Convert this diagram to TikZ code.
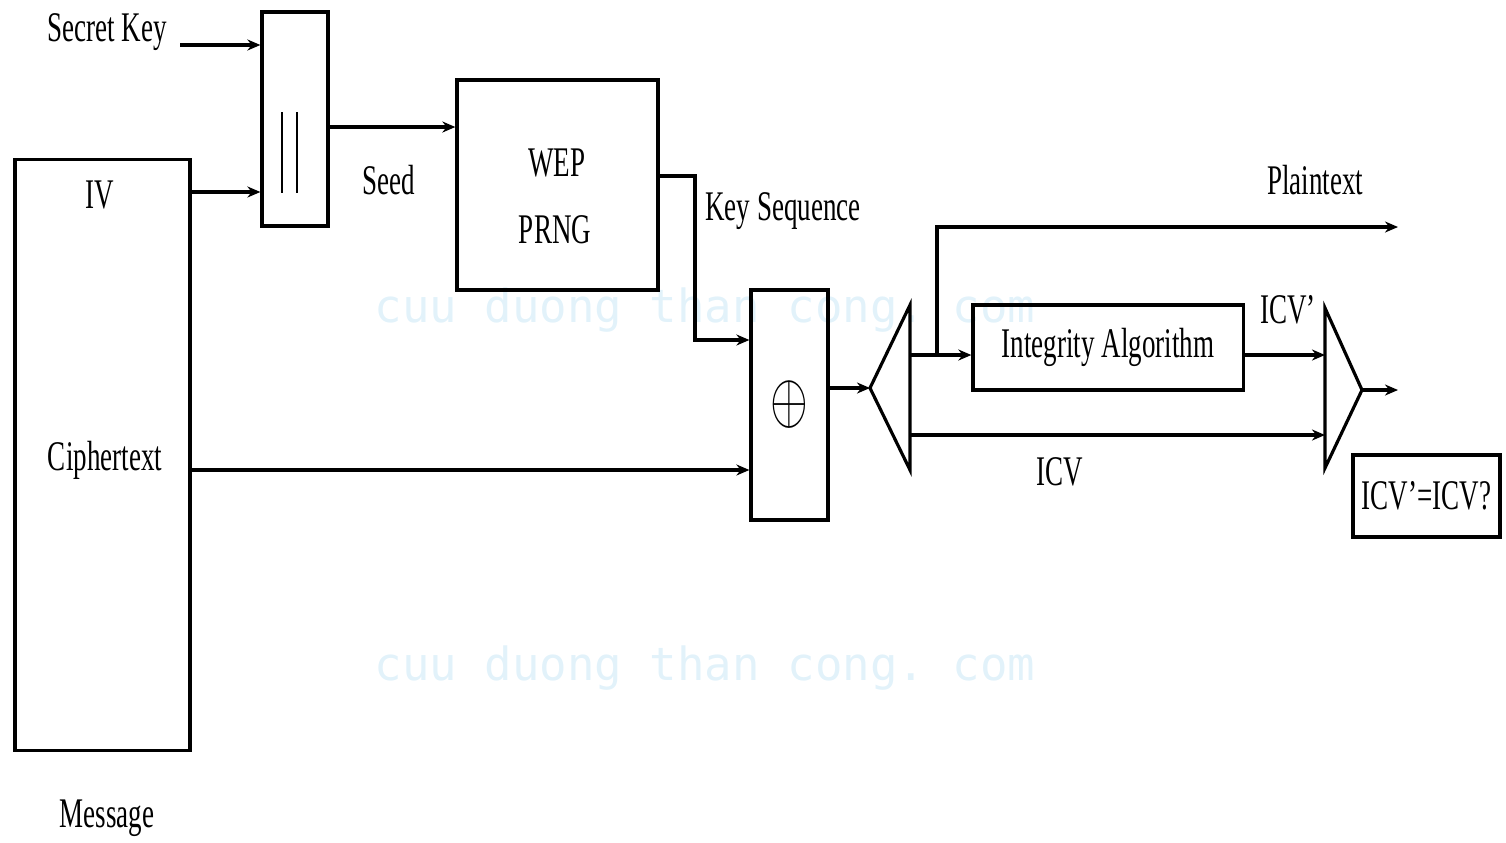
\documentclass[tikz,border=0pt]{standalone}
\usepackage{fontspec}
\setmainfont{Liberation Serif}[FakeStretch=0.64]
\setmonofont{DejaVu Sans Mono}
\usepackage{xcolor}
\usepackage{tikz}
\usetikzlibrary{arrows.meta}
\definecolor{wmark}{RGB}{226,242,250}

\begin{document}
\begin{tikzpicture}[x=0.01cm, y=-0.01cm, line width=0.9pt,
  font=\fontsize{12}{14}\selectfont,
  box/.style 2 args={draw, minimum width=#1, minimum height=#2, inner sep=0pt},
  arr/.style={-{Stealth[length=1.3mm,width=1.1mm]}},
  wm/.style={text=wmark, font=\ttfamily\fontsize{13}{13}\selectfont}]
  \useasboundingbox (0,0) rectangle (1506,842);
  \node[wm] (wm1) at (705,310) {cuu duong than cong. com};
  \node[wm] (wm2) at (705,668) {cuu duong than cong. com};

  % blocks
  \node[box={1.75cm}{5.9cm}]  (msg)   at (102.5,455) {};
  \node[box={0.66cm}{2.14cm}] (cat)   at (295,119)   {};
  \node[box={2.01cm}{2.10cm}] (prng)  at (557.5,185) {};
  \node[box={0.77cm}{2.30cm}] (xor)   at (789.5,405) {\scalebox{1.15}[1.7]{$\oplus$}};
  \node[box={2.70cm}{0.85cm}] (integ) at (1108,347.5) {Integrity Algorithm};
  \node[box={1.47cm}{0.82cm}] (check) at (1426.5,496) {ICV'=ICV?};
  \draw[line width=0.7pt] (282,112) -- (282,193) (297,112) -- (297,193);

  % split and compare
  \coordinate (sptip) at (870,388);  \coordinate (spa) at (910,305);  \coordinate (spb) at (910,470);
  \coordinate (cmptip) at (1362,390); \coordinate (cmpa) at (1325,308); \coordinate (cmpb) at (1325,468);
  \draw (sptip) -- (spa) -- (spb) -- cycle;
  \draw (cmpa) -- (cmptip) -- (cmpb) -- cycle;

  % connectors
  \coordinate (keyin) at (180,45);
  \draw[arr] (keyin) -- (keyin -| cat.west);
  \coordinate (ivy) at (0,192);
  \draw[arr] (msg.east |- ivy) -- (cat.west |- ivy);
  \coordinate (seedy) at (0,127);
  \draw[arr] (cat.east |- seedy) -- (prng.west |- seedy);
  \coordinate (ks1) at (695,176); \coordinate (ks2) at (695,340);
  \draw[arr] (prng.east |- ks1) -- (ks1) -- (ks2) -- (xor.west |- ks2);
  \coordinate (cty) at (0,470);
  \draw[arr] (msg.east |- cty) -- (xor.west |- cty);
  \draw[arr] (xor.east |- sptip) -- (sptip);
  \coordinate (sp1) at (910,355); \coordinate (br) at (937,355);
  \draw[arr] (sp1) -- (integ.west |- sp1);
  \coordinate (ptend) at (1398,227);
  \draw[arr] (br) -- (br |- ptend) -- (ptend);
  \coordinate (sp2) at (910,435);
  \draw[arr] (sp2) -- (sp2 -| cmpa);
  \draw[arr] (integ.east |- sp1) -- (sp1 -| cmpa);
  \coordinate (cmpout) at (1398,390);
  \draw[arr] (cmptip) -- (cmpout);

  % labels
  \node (seckey) at (107,32)   {Secret Key};
  \node (ivlbl)  at (100,195)  {IV};
  \node (ctlbl)  at (105,460)  {Ciphertext};
  \node (msglbl) at (107,818)  {Message};
  \node (seedlbl) at (389,180) {Seed};
  \node (weplbl) at (557,163)  {WEP};
  \node (prnglbl) at (555,230) {PRNG};
  \node (kslbl)  at (783,211)  {Key Sequence};
  \node (ptlbl)  at (1315,180) {Plaintext};
  \node (icvp)   at (1288,310) {ICV'};
  \node (icvlbl) at (1060,472) {ICV};
\end{tikzpicture}
\end{document}
